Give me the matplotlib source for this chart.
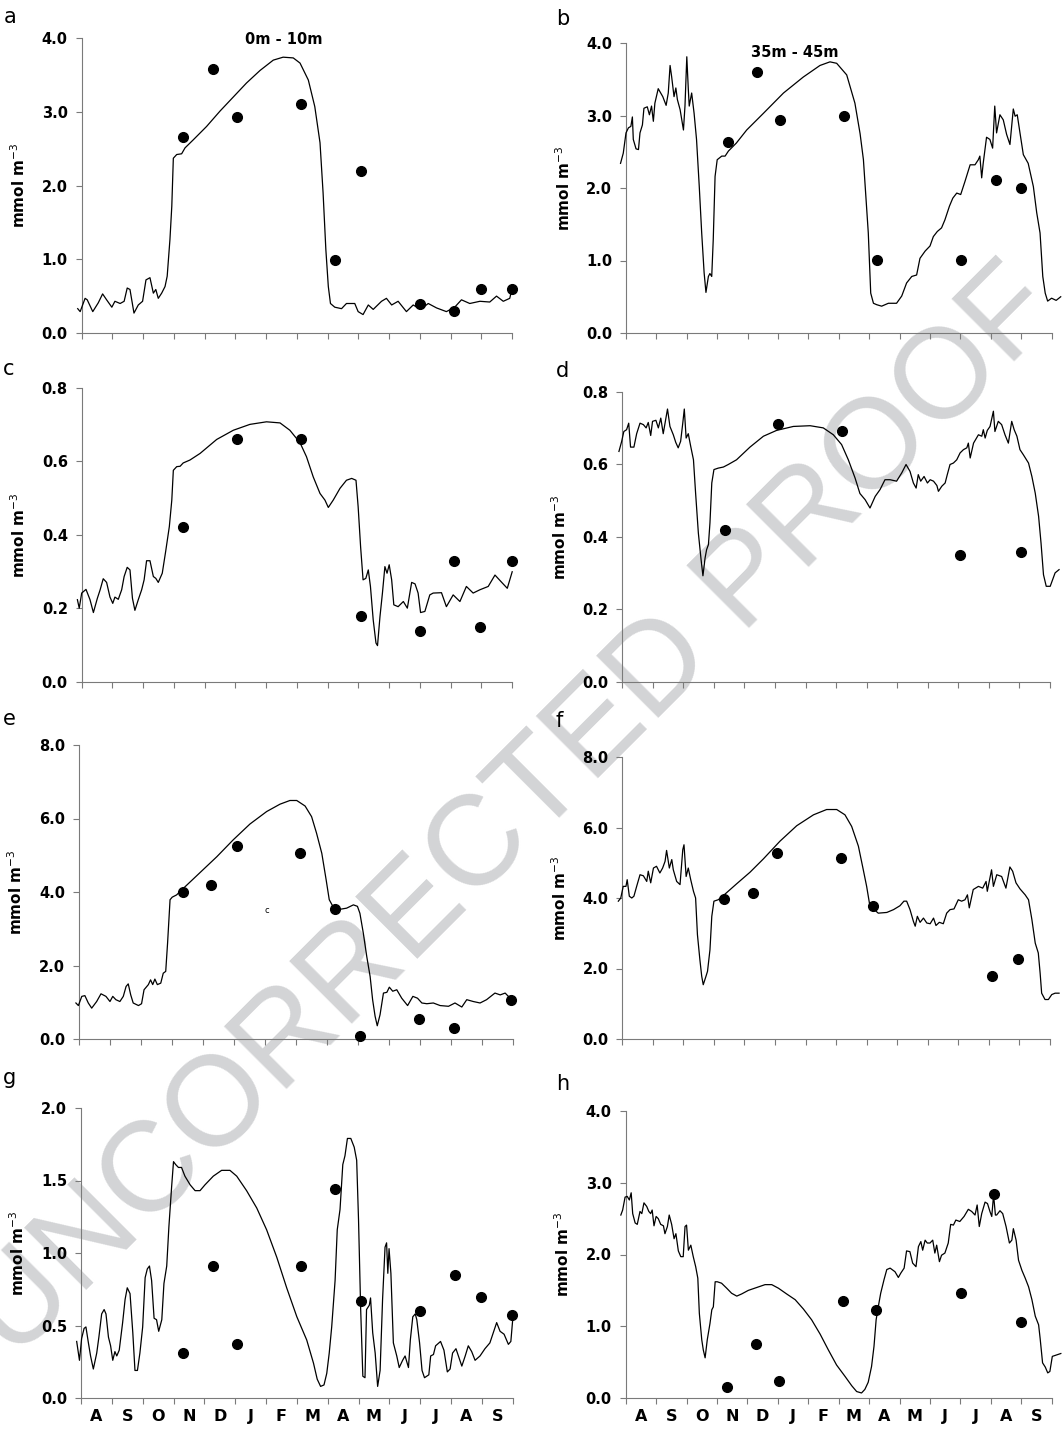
import numpy as np
import matplotlib.pyplot as plt

W, H = 1062, 1429

months = ["A", "S", "O", "N", "D", "J", "F", "M", "A", "M", "J", "J", "A", "S"]

a_line = [(-0.13, 0.33), (-0.05, 0.29), (0.11, 0.47), (0.18, 0.45), (0.36, 0.29), (0.54, 0.41), (0.68, 0.53),
          (0.81, 0.45), (0.98, 0.35), (1.08, 0.43), (1.25, 0.40), (1.38, 0.43), (1.48, 0.61), (1.57, 0.59),
          (1.70, 0.27), (1.84, 0.38), (1.98, 0.43), (2.09, 0.72), (2.22, 0.75), (2.33, 0.54), (2.41, 0.59),
          (2.49, 0.47), (2.60, 0.54), (2.71, 0.63), (2.78, 0.77), (2.87, 1.27), (2.93, 1.72), (2.98, 2.37),
          (3.09, 2.42), (3.25, 2.43), (3.36, 2.51), (3.63, 2.62), (4.06, 2.80), (4.50, 3.01), (4.93, 3.20),
          (5.36, 3.39), (5.80, 3.56), (6.23, 3.70), (6.55, 3.74), (6.88, 3.73), (7.10, 3.66), (7.37, 3.43),
          (7.58, 3.07), (7.75, 2.58), (7.85, 1.90), (7.94, 1.13), (8.02, 0.63), (8.09, 0.40), (8.23, 0.35),
          (8.45, 0.33), (8.61, 0.40), (8.88, 0.40), (8.99, 0.29), (9.15, 0.25), (9.32, 0.38), (9.48, 0.32),
          (9.75, 0.43), (9.91, 0.47), (10.08, 0.38), (10.29, 0.43), (10.56, 0.29), (10.78, 0.38), (11.02, 0.32),
          (11.27, 0.40), (11.54, 0.34), (11.86, 0.29), (12.13, 0.35), (12.35, 0.45), (12.62, 0.40), (12.95, 0.43),
          (13.27, 0.42), (13.49, 0.50), (13.71, 0.43), (13.92, 0.47), (14.0, 0.61)]
a_obs = [(3.28, 2.66), (4.28, 3.58), (5.04, 2.93), (7.13, 3.10), (8.24, 0.99), (9.08, 2.20),
         (11.0, 0.40), (12.10, 0.30), (12.97, 0.60), (13.98, 0.60)]

b_line = [(-0.18, 2.34), (-0.09, 2.48), (0.0, 2.76), (0.08, 2.83), (0.16, 2.85), (0.21, 2.98), (0.24, 2.67),
          (0.33, 2.54), (0.41, 2.53), (0.46, 2.76), (0.54, 2.87), (0.59, 3.10), (0.70, 3.12), (0.77, 3.01),
          (0.84, 3.13), (0.90, 2.92), (0.95, 3.17), (1.06, 3.37), (1.21, 3.26), (1.32, 3.14), (1.39, 3.31),
          (1.45, 3.69), (1.50, 3.54), (1.58, 3.26), (1.64, 3.38), (1.69, 3.22), (1.78, 3.08), (1.89, 2.80),
          (1.94, 3.13), (2.00, 3.81), (2.05, 3.36), (2.08, 3.13), (2.16, 3.31), (2.24, 3.03), (2.32, 2.67),
          (2.41, 2.02), (2.49, 1.38), (2.57, 0.83), (2.63, 0.56), (2.71, 0.78), (2.76, 0.82), (2.82, 0.78),
          (2.87, 1.29), (2.93, 2.16), (3.00, 2.39), (3.15, 2.44), (3.26, 2.44), (3.37, 2.51), (3.63, 2.62),
          (3.97, 2.80), (4.52, 3.03), (5.18, 3.31), (5.83, 3.53), (6.38, 3.69), (6.71, 3.74), (6.93, 3.72),
          (7.26, 3.56), (7.53, 3.17), (7.70, 2.75), (7.81, 2.39), (7.97, 1.38), (8.05, 0.55), (8.14, 0.41),
          (8.25, 0.39), (8.41, 0.37), (8.63, 0.41), (8.90, 0.41), (9.07, 0.51), (9.23, 0.69), (9.40, 0.78),
          (9.56, 0.80), (9.67, 1.03), (9.84, 1.13), (10.00, 1.20), (10.11, 1.33), (10.24, 1.40), (10.38, 1.45),
          (10.49, 1.56), (10.64, 1.75), (10.75, 1.86), (10.88, 1.93), (11.01, 1.91), (11.15, 2.09), (11.32, 2.32),
          (11.48, 2.32), (11.59, 2.39), (11.64, 2.44), (11.70, 2.14), (11.75, 2.34), (11.86, 2.70), (11.97, 2.67),
          (12.06, 2.55), (12.13, 3.13), (12.19, 2.76), (12.30, 3.01), (12.41, 2.94), (12.52, 2.74), (12.63, 2.60),
          (12.74, 3.09), (12.80, 2.99), (12.87, 3.01), (12.96, 2.76), (13.07, 2.46), (13.23, 2.34), (13.40, 2.02),
          (13.51, 1.66), (13.62, 1.38), (13.71, 0.78), (13.79, 0.55), (13.87, 0.44), (14.0, 0.48), (14.15, 0.45),
          (14.3, 0.50)]
b_obs = [(3.34, 2.64), (4.30, 3.60), (5.07, 2.94), (7.17, 3.00), (8.27, 1.01), (11.01, 1.01),
         (12.17, 2.11), (12.98, 2.00)]

c_line = [(-0.14, 0.224), (-0.08, 0.201), (0.0, 0.242), (0.14, 0.252), (0.27, 0.224), (0.38, 0.189),
          (0.51, 0.228), (0.60, 0.251), (0.70, 0.281), (0.81, 0.271), (0.92, 0.231), (1.01, 0.214),
          (1.08, 0.231), (1.19, 0.225), (1.30, 0.251), (1.38, 0.287), (1.48, 0.312), (1.57, 0.305),
          (1.65, 0.228), (1.73, 0.195), (1.84, 0.224), (1.95, 0.251), (2.03, 0.278), (2.11, 0.330),
          (2.22, 0.330), (2.33, 0.287), (2.41, 0.282), (2.49, 0.271), (2.62, 0.296), (2.73, 0.355),
          (2.85, 0.423), (2.93, 0.495), (2.98, 0.576), (3.09, 0.586), (3.20, 0.587), (3.30, 0.596),
          (3.52, 0.604), (3.85, 0.622), (4.39, 0.660), (4.93, 0.685), (5.47, 0.701), (6.01, 0.708),
          (6.45, 0.705), (6.77, 0.685), (7.10, 0.651), (7.31, 0.613), (7.53, 0.558), (7.75, 0.513),
          (7.91, 0.495), (8.02, 0.475), (8.18, 0.495), (8.40, 0.527), (8.61, 0.549), (8.78, 0.554),
          (8.92, 0.549), (8.99, 0.477), (9.07, 0.368), (9.15, 0.278), (9.24, 0.282), (9.32, 0.305),
          (9.39, 0.260), (9.48, 0.169), (9.57, 0.106), (9.62, 0.099), (9.70, 0.178), (9.78, 0.242),
          (9.86, 0.314), (9.93, 0.296), (10.00, 0.319), (10.08, 0.278), (10.15, 0.210), (10.29, 0.205),
          (10.46, 0.219), (10.59, 0.201), (10.73, 0.271), (10.84, 0.267), (10.94, 0.242), (11.02, 0.189),
          (11.16, 0.192), (11.32, 0.237), (11.43, 0.242), (11.70, 0.243), (11.86, 0.205), (12.08, 0.237),
          (12.30, 0.219), (12.51, 0.260), (12.73, 0.242), (12.95, 0.251), (13.22, 0.260), (13.44, 0.291),
          (13.66, 0.271), (13.84, 0.255), (14.0, 0.300)]
c_obs = [(3.28, 0.421), (5.04, 0.660), (7.13, 0.660), (9.08, 0.180), (11.00, 0.140), (12.10, 0.329),
         (12.95, 0.151), (13.98, 0.329)]

d_line = [(-0.11, 0.636), (-0.02, 0.664), (0.05, 0.691), (0.14, 0.696), (0.21, 0.714), (0.27, 0.648),
          (0.38, 0.648), (0.47, 0.685), (0.58, 0.714), (0.69, 0.710), (0.78, 0.701), (0.85, 0.716),
          (0.93, 0.680), (0.99, 0.719), (1.10, 0.722), (1.18, 0.701), (1.26, 0.728), (1.34, 0.685),
          (1.42, 0.724), (1.48, 0.753), (1.56, 0.705), (1.67, 0.682), (1.75, 0.661), (1.83, 0.646),
          (1.91, 0.664), (1.98, 0.714), (2.03, 0.753), (2.09, 0.673), (2.16, 0.685), (2.24, 0.650),
          (2.33, 0.613), (2.40, 0.521), (2.49, 0.411), (2.58, 0.337), (2.64, 0.293), (2.71, 0.342),
          (2.76, 0.365), (2.82, 0.379), (2.87, 0.439), (2.93, 0.549), (3.00, 0.586), (3.14, 0.590),
          (3.31, 0.593), (3.47, 0.600), (3.74, 0.613), (4.18, 0.648), (4.62, 0.678), (5.05, 0.694),
          (5.60, 0.705), (6.15, 0.707), (6.58, 0.701), (6.91, 0.682), (7.18, 0.655), (7.40, 0.613),
          (7.62, 0.563), (7.78, 0.520), (7.95, 0.503), (8.11, 0.480), (8.28, 0.512), (8.44, 0.531),
          (8.60, 0.558), (8.77, 0.558), (8.98, 0.554), (9.15, 0.577), (9.29, 0.600), (9.42, 0.581),
          (9.53, 0.549), (9.62, 0.535), (9.69, 0.572), (9.77, 0.554), (9.88, 0.567), (9.99, 0.549),
          (10.08, 0.558), (10.19, 0.554), (10.30, 0.542), (10.35, 0.526), (10.46, 0.540), (10.57, 0.549),
          (10.64, 0.572), (10.73, 0.600), (10.84, 0.604), (10.95, 0.613), (11.06, 0.632), (11.17, 0.641),
          (11.28, 0.646), (11.33, 0.659), (11.39, 0.618), (11.50, 0.659), (11.66, 0.682), (11.77, 0.678),
          (11.82, 0.696), (11.88, 0.673), (11.95, 0.694), (12.04, 0.705), (12.15, 0.747), (12.20, 0.691),
          (12.31, 0.719), (12.42, 0.710), (12.53, 0.682), (12.64, 0.659), (12.75, 0.719), (12.83, 0.696),
          (12.92, 0.678), (13.02, 0.641), (13.13, 0.627), (13.30, 0.604), (13.41, 0.567), (13.52, 0.521),
          (13.63, 0.457), (13.71, 0.383), (13.79, 0.296), (13.88, 0.264), (14.01, 0.264), (14.17, 0.301),
          (14.3, 0.31)]
d_obs = [(3.36, 0.420), (5.11, 0.712), (7.18, 0.693), (11.06, 0.351), (13.05, 0.360)]

e_line = [(-0.10, 0.98), (-0.02, 0.91), (0.09, 1.16), (0.19, 1.18), (0.30, 0.98), (0.41, 0.84), (0.57, 1.02),
          (0.71, 1.23), (0.87, 1.16), (1.00, 1.02), (1.09, 1.16), (1.19, 1.07), (1.32, 1.02), (1.43, 1.16),
          (1.52, 1.43), (1.59, 1.50), (1.67, 1.20), (1.75, 0.98), (1.92, 0.91), (2.02, 0.96), (2.10, 1.34),
          (2.24, 1.48), (2.31, 1.61), (2.38, 1.48), (2.45, 1.63), (2.53, 1.48), (2.64, 1.52), (2.72, 1.79),
          (2.80, 1.84), (2.86, 2.61), (2.94, 3.79), (3.01, 3.86), (3.15, 3.92), (3.37, 4.10), (3.91, 4.53),
          (4.45, 4.96), (4.98, 5.42), (5.52, 5.85), (6.06, 6.19), (6.49, 6.39), (6.81, 6.49), (7.03, 6.49),
          (7.30, 6.34), (7.51, 6.05), (7.67, 5.60), (7.84, 5.05), (7.98, 4.33), (8.08, 3.79), (8.21, 3.59),
          (8.43, 3.53), (8.64, 3.56), (8.86, 3.65), (8.99, 3.61), (9.07, 3.42), (9.18, 2.88), (9.29, 2.25),
          (9.40, 1.70), (9.48, 1.07), (9.56, 0.62), (9.63, 0.36), (9.72, 0.66), (9.83, 1.25), (9.94, 1.27),
          (10.02, 1.41), (10.13, 1.30), (10.26, 1.34), (10.42, 1.11), (10.61, 0.91), (10.78, 1.16),
          (10.93, 1.11), (11.07, 0.98), (11.23, 0.96), (11.44, 0.98), (11.66, 0.91), (11.93, 0.89),
          (12.14, 0.98), (12.36, 0.87), (12.52, 1.07), (12.73, 1.02), (12.95, 0.98), (13.16, 1.07),
          (13.43, 1.25), (13.60, 1.20), (13.76, 1.25), (13.92, 1.11), (14.0, 1.16)]
e_obs = [(3.35, 3.99), (4.27, 4.18), (5.09, 5.24), (7.14, 5.07), (8.25, 3.54), (9.07, 0.09),
         (10.99, 0.54), (12.11, 0.30), (13.95, 1.07)]

f_line = [(-0.13, 3.91), (-0.05, 4.00), (0.03, 4.33), (0.12, 4.33), (0.16, 4.52), (0.23, 4.05), (0.31, 4.00),
          (0.38, 4.05), (0.47, 4.33), (0.58, 4.66), (0.69, 4.63), (0.80, 4.47), (0.85, 4.76), (0.93, 4.43),
          (1.02, 4.85), (1.12, 4.90), (1.23, 4.71), (1.32, 4.85), (1.40, 5.04), (1.45, 5.35), (1.54, 4.85),
          (1.62, 5.09), (1.67, 4.80), (1.78, 4.47), (1.89, 4.38), (1.98, 5.37), (2.02, 5.51), (2.09, 4.61),
          (2.16, 4.85), (2.24, 4.52), (2.33, 4.19), (2.40, 4.00), (2.46, 2.96), (2.54, 2.25), (2.60, 1.78),
          (2.65, 1.54), (2.74, 1.78), (2.79, 1.92), (2.87, 2.53), (2.93, 3.48), (3.00, 3.91), (3.14, 3.95),
          (3.31, 4.07), (3.74, 4.40), (4.18, 4.73), (4.62, 5.11), (5.16, 5.61), (5.71, 6.05), (6.26, 6.36),
          (6.69, 6.51), (7.02, 6.51), (7.29, 6.36), (7.51, 6.03), (7.73, 5.47), (7.89, 4.80), (8.00, 4.33),
          (8.09, 3.86), (8.22, 3.69), (8.38, 3.57), (8.66, 3.59), (8.88, 3.67), (9.09, 3.78), (9.22, 3.91),
          (9.31, 3.91), (9.42, 3.67), (9.53, 3.34), (9.59, 3.20), (9.66, 3.48), (9.75, 3.31), (9.86, 3.43),
          (9.97, 3.29), (10.08, 3.27), (10.19, 3.43), (10.27, 3.22), (10.38, 3.31), (10.51, 3.27),
          (10.62, 3.57), (10.73, 3.67), (10.86, 3.69), (11.00, 3.95), (11.11, 3.91), (11.22, 3.95),
          (11.30, 4.09), (11.36, 3.72), (11.49, 4.24), (11.66, 4.33), (11.80, 4.28), (11.91, 4.47),
          (11.95, 4.19), (12.09, 4.80), (12.15, 4.33), (12.26, 4.66), (12.42, 4.61), (12.56, 4.28),
          (12.69, 4.88), (12.78, 4.76), (12.89, 4.43), (13.02, 4.26), (13.19, 4.09), (13.30, 3.95),
          (13.41, 3.39), (13.52, 2.72), (13.62, 2.44), (13.68, 1.87), (13.73, 1.30), (13.84, 1.12),
          (13.95, 1.12), (14.06, 1.26), (14.17, 1.30), (14.3, 1.30)]
f_obs = [(3.33, 3.97), (4.29, 4.14), (5.08, 5.28), (7.15, 5.13), (8.22, 3.76), (12.10, 1.80), (12.95, 2.27)]

g_line = [(-0.14, 0.39), (-0.05, 0.26), (0.02, 0.41), (0.10, 0.48), (0.16, 0.49), (0.24, 0.38), (0.31, 0.29),
          (0.40, 0.20), (0.51, 0.31), (0.58, 0.42), (0.67, 0.58), (0.75, 0.61), (0.81, 0.58), (0.89, 0.42),
          (0.96, 0.36), (1.03, 0.26), (1.10, 0.32), (1.16, 0.29), (1.24, 0.33), (1.35, 0.52), (1.43, 0.68),
          (1.50, 0.76), (1.59, 0.72), (1.68, 0.45), (1.75, 0.19), (1.83, 0.19), (1.91, 0.31), (2.00, 0.49),
          (2.08, 0.83), (2.15, 0.89), (2.22, 0.91), (2.29, 0.81), (2.37, 0.55), (2.45, 0.54), (2.52, 0.46),
          (2.62, 0.54), (2.69, 0.79), (2.78, 0.91), (2.85, 1.18), (2.94, 1.46), (3.00, 1.63), (3.07, 1.61),
          (3.16, 1.59), (3.26, 1.59), (3.37, 1.53), (3.54, 1.47), (3.70, 1.43), (3.86, 1.43), (4.02, 1.47),
          (4.29, 1.53), (4.56, 1.57), (4.83, 1.57), (5.05, 1.53), (5.37, 1.43), (5.70, 1.31), (6.02, 1.16),
          (6.35, 0.97), (6.67, 0.76), (7.00, 0.56), (7.32, 0.40), (7.54, 0.24), (7.66, 0.13), (7.77, 0.08),
          (7.88, 0.09), (7.97, 0.17), (8.05, 0.31), (8.13, 0.49), (8.24, 0.81), (8.31, 1.16), (8.40, 1.30),
          (8.49, 1.61), (8.56, 1.67), (8.64, 1.79), (8.75, 1.79), (8.86, 1.73), (8.94, 1.64), (9.00, 1.23),
          (9.07, 0.61), (9.14, 0.15), (9.21, 0.14), (9.26, 0.61), (9.35, 0.64), (9.39, 0.69), (9.46, 0.45),
          (9.54, 0.31), (9.62, 0.08), (9.70, 0.19), (9.78, 0.68), (9.86, 1.04), (9.91, 1.07), (9.95, 0.86),
          (9.99, 1.03), (10.05, 0.86), (10.13, 0.38), (10.24, 0.29), (10.32, 0.21), (10.43, 0.26),
          (10.51, 0.29), (10.62, 0.21), (10.68, 0.40), (10.76, 0.56), (10.84, 0.58), (10.89, 0.54),
          (10.98, 0.38), (11.06, 0.19), (11.14, 0.14), (11.28, 0.16), (11.34, 0.29), (11.43, 0.30),
          (11.50, 0.36), (11.66, 0.39), (11.77, 0.33), (11.88, 0.18), (11.97, 0.20), (12.05, 0.31),
          (12.16, 0.34), (12.24, 0.29), (12.35, 0.22), (12.46, 0.29), (12.56, 0.36), (12.67, 0.32),
          (12.78, 0.26), (12.94, 0.29), (13.10, 0.34), (13.26, 0.38), (13.37, 0.45), (13.48, 0.52),
          (13.59, 0.46), (13.72, 0.44), (13.86, 0.37), (13.94, 0.39), (14.0, 0.54)]
g_obs = [(3.32, 0.31), (4.27, 0.91), (5.07, 0.37), (7.14, 0.91), (8.24, 1.44), (9.08, 0.67),
         (11.0, 0.60), (12.13, 0.85), (12.97, 0.70), (13.97, 0.57)]

h_line = [(-0.16, 2.55), (-0.10, 2.62), (-0.02, 2.80), (0.05, 2.81), (0.12, 2.76), (0.18, 2.86), (0.23, 2.57),
          (0.31, 2.44), (0.38, 2.42), (0.47, 2.60), (0.53, 2.57), (0.60, 2.72), (0.69, 2.67), (0.76, 2.60),
          (0.82, 2.57), (0.87, 2.62), (0.93, 2.40), (1.00, 2.53), (1.07, 2.50), (1.15, 2.42), (1.24, 2.40),
          (1.29, 2.29), (1.37, 2.39), (1.43, 2.55), (1.51, 2.42), (1.59, 2.22), (1.65, 2.29), (1.73, 2.05),
          (1.81, 1.97), (1.89, 1.97), (1.95, 2.39), (2.00, 2.41), (2.06, 2.06), (2.14, 2.13), (2.22, 1.97),
          (2.30, 1.83), (2.37, 1.67), (2.42, 1.18), (2.50, 0.81), (2.55, 0.67), (2.61, 0.56), (2.68, 0.81),
          (2.77, 1.04), (2.83, 1.23), (2.88, 1.27), (2.94, 1.62), (3.01, 1.62), (3.15, 1.60), (3.32, 1.53),
          (3.48, 1.46), (3.65, 1.42), (3.81, 1.45), (4.03, 1.50), (4.30, 1.54), (4.58, 1.58), (4.80, 1.58),
          (5.02, 1.53), (5.29, 1.45), (5.57, 1.37), (5.84, 1.24), (6.11, 1.09), (6.39, 0.89), (6.66, 0.67),
          (6.93, 0.46), (7.21, 0.30), (7.43, 0.17), (7.59, 0.09), (7.75, 0.07), (7.86, 0.12), (7.97, 0.22),
          (8.08, 0.44), (8.16, 0.72), (8.23, 1.09), (8.30, 1.27), (8.38, 1.46), (8.49, 1.65), (8.58, 1.79),
          (8.69, 1.81), (8.85, 1.76), (8.96, 1.68), (9.04, 1.74), (9.15, 1.81), (9.23, 2.05), (9.34, 2.04),
          (9.43, 1.88), (9.54, 1.83), (9.62, 2.11), (9.70, 2.18), (9.76, 2.06), (9.84, 2.20), (9.91, 2.16),
          (10.00, 2.16), (10.09, 2.20), (10.16, 2.02), (10.22, 2.13), (10.31, 1.90), (10.38, 1.99),
          (10.49, 2.02), (10.60, 2.16), (10.68, 2.42), (10.77, 2.41), (10.85, 2.48), (10.98, 2.46),
          (11.12, 2.53), (11.26, 2.63), (11.37, 2.60), (11.48, 2.55), (11.55, 2.69), (11.62, 2.39),
          (11.70, 2.57), (11.81, 2.73), (11.89, 2.71), (11.97, 2.60), (12.03, 2.53), (12.09, 2.83),
          (12.15, 2.55), (12.19, 2.55), (12.30, 2.61), (12.39, 2.57), (12.50, 2.39), (12.61, 2.16),
          (12.69, 2.20), (12.74, 2.36), (12.83, 2.20), (12.91, 1.92), (13.02, 1.78), (13.13, 1.67),
          (13.24, 1.55), (13.35, 1.37), (13.46, 1.14), (13.57, 1.02), (13.62, 0.83), (13.70, 0.49),
          (13.79, 0.43), (13.87, 0.35), (13.94, 0.37), (14.02, 0.58), (14.3, 0.62)]
h_obs = [(3.32, 0.16), (4.28, 0.75), (5.05, 0.24), (7.13, 1.35), (8.23, 1.23), (11.01, 1.47),
         (12.10, 2.85), (12.98, 1.06)]

y_tops = {"a": 4.0, "b": 4.0, "c": 0.8, "d": 0.8, "e": 8.0, "f": 8.0, "g": 2.0, "h": 4.0}
y_steps = {"a": 1.0, "b": 1.0, "c": 0.2, "d": 0.2, "e": 2.0, "f": 2.0, "g": 0.5, "h": 1.0}

# axes boxes in pixels: left, top, width, bottom
boxes = {"a": (81.7, 38, 430.5, 333), "b": (626, 43, 425.6, 333),
         "c": (81.7, 388, 430.5, 682), "d": (622.3, 392, 427.6, 682),
         "e": (79, 745, 433.6, 1039), "f": (622.3, 757, 427.6, 1039),
         "g": (81, 1108, 431.7, 1398), "h": (625.7, 1111, 426, 1398)}
# panel letter baselines in pixels
letter_pos = {"a": (4, 23), "b": (556, 25), "c": (3, 375), "d": (556, 377),
              "e": (3, 725), "f": (556, 727), "g": (3, 1084), "h": (556, 1090)}

lines = {"a": a_line, "b": b_line, "c": c_line, "d": d_line,
         "e": e_line, "f": f_line, "g": g_line, "h": h_line}
obs = {"a": a_obs, "b": b_obs, "c": c_obs, "d": d_obs,
       "e": e_obs, "f": f_obs, "g": g_obs, "h": h_obs}

plt.rcParams['font.family'] = ['DejaVu Sans']
fig = plt.figure(figsize=(W / 100, H / 100), dpi=100)

# watermark behind everything
fig.text(515 / W, 1 - 815 / H, "UNCORRECTED PROOF", rotation=45, rotation_mode='anchor',
         ha='center', va='center', fontsize=92, color='#d3d4d6', family='Liberation Sans', zorder=-1)

axis_grey = '#7a7a7a'
for key in "abcdefgh":
    left, top, width, bottom = boxes[key]
    ax = fig.add_axes([left / W, 1 - bottom / H, width / W, (bottom - top) / H])
    ax.set_facecolor('none')

    lx, ly = np.array(lines[key]).T
    ox, oy = np.array(obs[key]).T
    ax.plot(lx, ly, color='black', lw=0.9, clip_on=False, zorder=3)
    ax.plot(ox, oy, 'o', color='black', ms=7, clip_on=False, zorder=4)

    ax.set_xlim(0, 14)
    ax.set_ylim(0, y_tops[key])
    yt = np.arange(0, y_tops[key] + 1e-9, y_steps[key])
    ax.set_yticks(yt)
    ax.set_yticklabels(["%.1f" % v for v in yt], fontweight='bold', fontsize=10.5)
    ax.set_xticks(range(15))
    ax.set_xticklabels([])
    if key in "gh":
        ax.set_xticks(np.arange(14) + 0.5, minor=True)
        ax.set_xticklabels(months, minor=True, fontweight='bold', fontsize=11.5)
    ax.tick_params(axis='x', which='minor', length=0, pad=8)
    ax.tick_params(which='major', direction='out', length=4, width=0.8, color=axis_grey, pad=6)

    for s in ['top', 'right']:
        ax.spines[s].set_visible(False)
    for s in ['left', 'bottom']:
        ax.spines[s].set_color(axis_grey)
        ax.spines[s].set_linewidth(0.8)

    ax.set_ylabel('mmol m$^{-3}$', fontweight='bold', fontsize=11)
    ax.yaxis.set_label_coords(-0.125, 0.5)

    lx0, ly0 = letter_pos[key]
    fig.text(lx0 / W, 1 - ly0 / H, key, fontsize=15, ha='left', va='baseline')

    if key == "a":
        ax.text(284 / W, 1 - 44 / H, "0m - 10m", transform=fig.transFigure,
                ha='center', va='baseline', fontweight='bold', fontsize=10.5)
    if key == "b":
        ax.text(795 / W, 1 - 57 / H, "35m - 45m", transform=fig.transFigure,
                ha='center', va='baseline', fontweight='bold', fontsize=10.5)
    if key == "e":
        ax.text(6.06, 3.5, "c", ha='center', va='center', fontsize=6)

fig.savefig("out.png", dpi=100)
